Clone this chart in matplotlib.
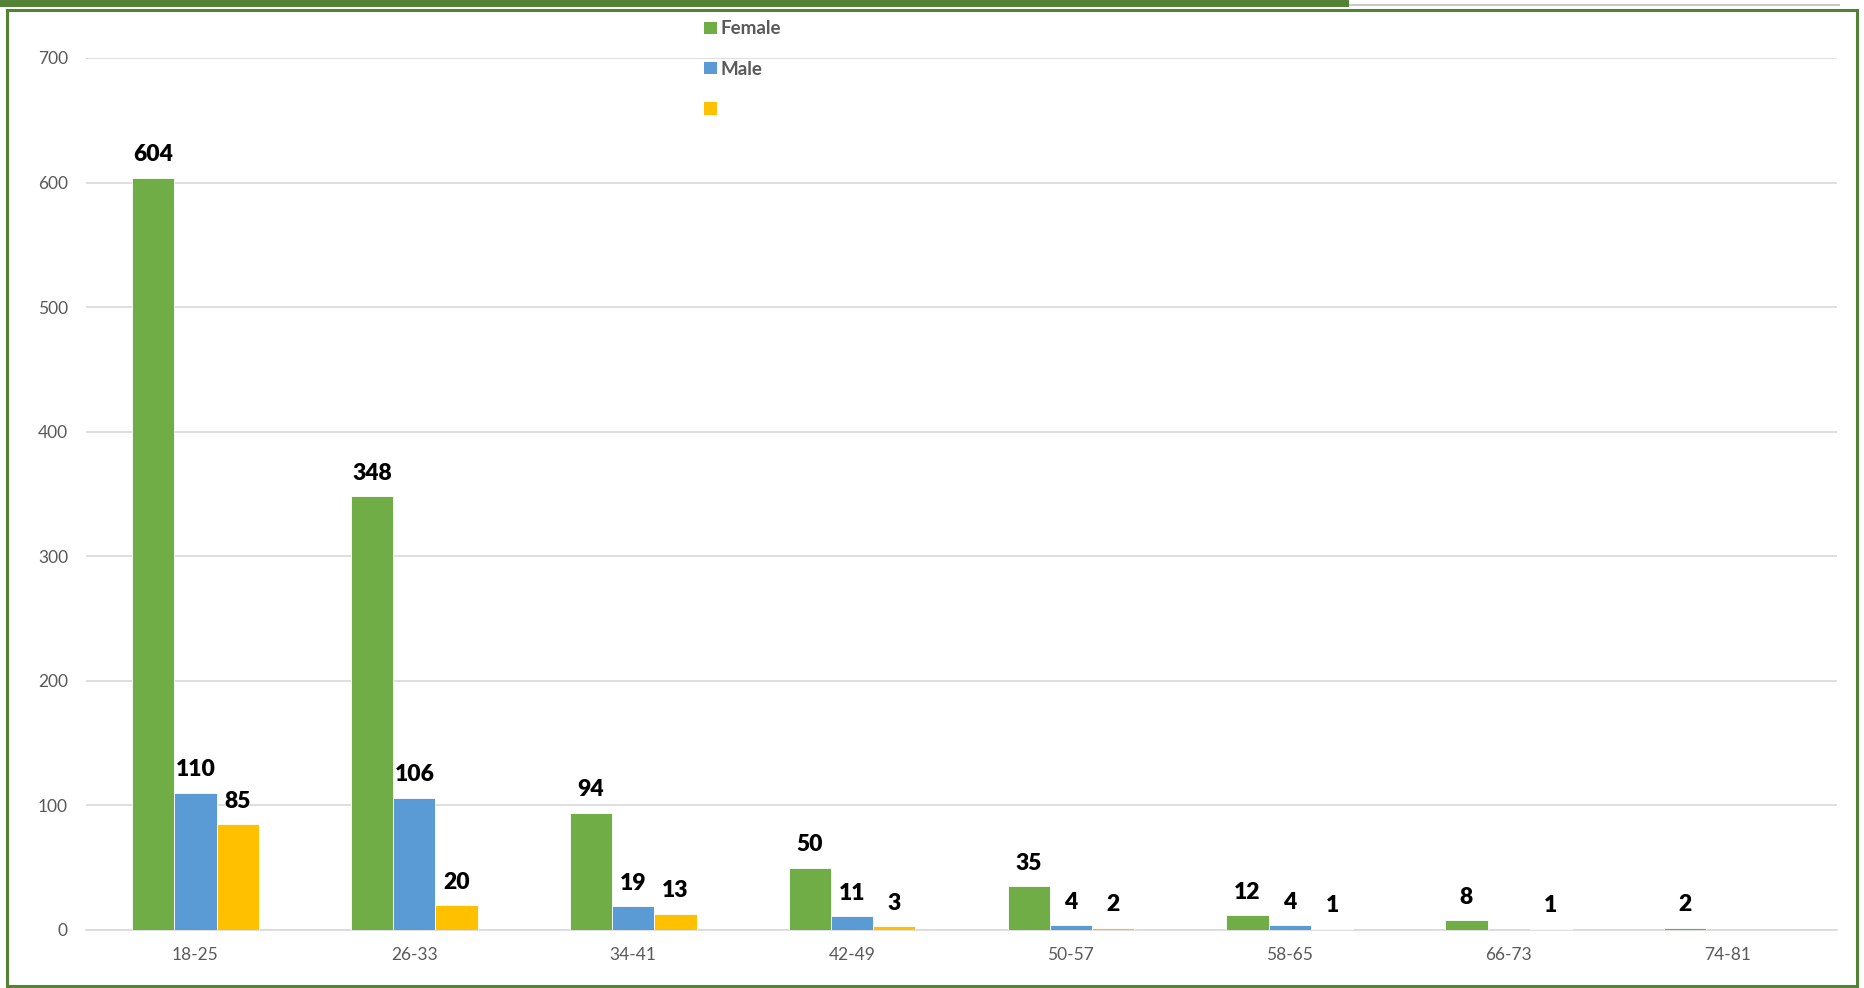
import numpy as np
import matplotlib.pyplot as plt
from matplotlib.patches import Rectangle, Patch

plt.rcParams['font.family'] = ['Lato', 'DejaVu Sans']

# age groups and counts
age_groups = ['18-25', '26-33', '34-41', '42-49', '50-57', '58-65', '66-73', '74-81']
female = [604, 348, 94, 50, 35, 12, 8, 2]
male = [110, 106, 19, 11, 4, 4, 0, 0]
other = [85, 20, 13, 3, 2, 1, 1, 0]
series_names = ['Female', 'Male', '']
colors = ['#70ad47', '#5b9bd5', '#ffc000']

W, H = 1864, 988
fig = plt.figure(figsize=(W / 100, H / 100), dpi=100)
ax = fig.add_axes([86 / W, 1 - 930 / H, (1837 - 86) / W, (930 - 58) / H])

x = np.arange(len(age_groups))
bw = 0.193
for i, (vals, c) in enumerate(zip([female, male, other], colors)):
    pos = x + (i - 1) * bw
    ax.bar(pos, vals, width=bw, color=c, edgecolor='white', linewidth=0.6, zorder=3)
    for p, v in zip(pos, vals):
        if v > 0:
            ax.annotate(str(v), (p, v), xytext=(0, 9), textcoords='offset points',
                        ha='center', va='bottom', fontsize=16.5, fontweight='heavy', color='black')

ax.set_xlim(-0.5, len(age_groups) - 0.5)
ax.set_ylim(0, 700)
ax.set_yticks(range(0, 701, 100))
ax.set_xticks(x)
ax.set_xticklabels(age_groups)
ax.tick_params(axis='both', length=0, labelsize=12.5, labelcolor='#595959')
ax.tick_params(axis='y', pad=13)
ax.tick_params(axis='x', pad=12)
ax.grid(axis='y', color='#d9d9d9', linewidth=1.2, zorder=0)
for s in ['top', 'right', 'left']:
    ax.spines[s].set_visible(False)
ax.spines['bottom'].set_color('#d9d9d9')
ax.spines['bottom'].set_linewidth(1.2)

handles = [Patch(facecolor=c, edgecolor='none') for c in colors]
leg = fig.legend(handles, series_names, loc='upper left', bbox_to_anchor=(695 / W, 1 - 11 / H),
                 frameon=False, fontsize=13.5, handlelength=0.65, handleheight=0.65,
                 handletextpad=0.2, labelspacing=1.25, borderpad=0)
for t in leg.get_texts():
    t.set_fontweight('bold')
    t.set_color('#595959')

# green frame and top bar
fig.add_artist(Rectangle((7 / W, 2 / H), (1857 - 7) / W, (983 - 7) / H, transform=fig.transFigure,
                         fill=False, edgecolor='#538135', linewidth=2.2))
fig.add_artist(Rectangle((0, 1 - 7 / H), 1349 / W, 7 / H, transform=fig.transFigure,
                         facecolor='#538135', edgecolor='none'))
fig.add_artist(Rectangle((1349 / W, 1 - 6 / H), (1840 - 1349) / W, 1.5 / H, transform=fig.transFigure,
                         facecolor='#c8c8c8', edgecolor='none'))

fig.savefig('out.png', dpi=100)
